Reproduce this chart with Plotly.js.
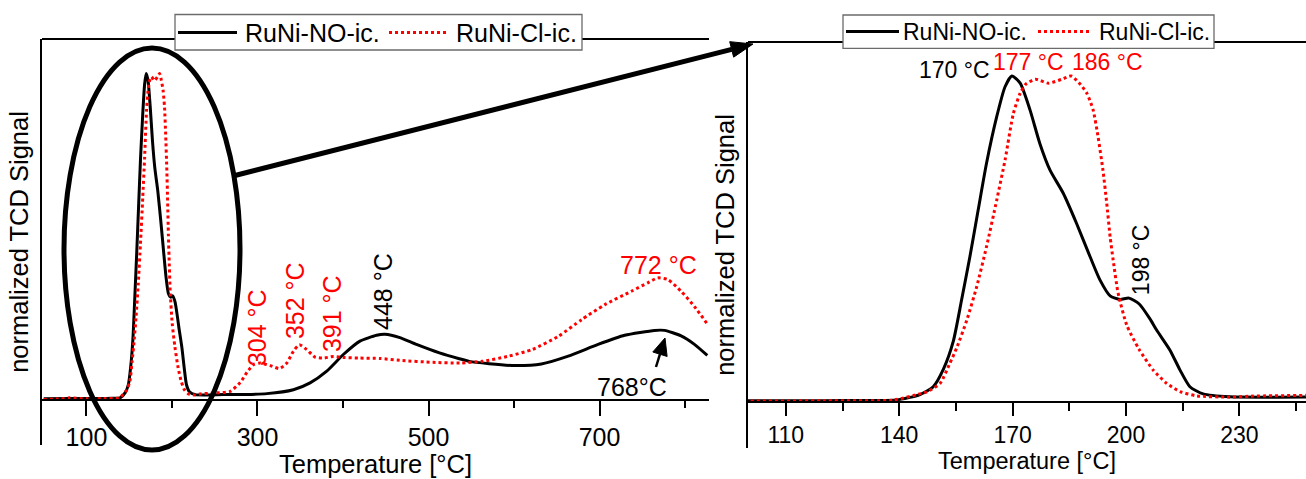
<!DOCTYPE html>
<html>
<head>
<meta charset="utf-8">
<script src="https://cdn.plot.ly/plotly-3.0.1.min.js"></script>
<style>html,body{margin:0;padding:0;background:#fff}#chart{width:1306px;height:479px}</style>
</head>
<body>
<div id="chart"></div>
<script>
// ---------- data ----------
const seriesNames = ["RuNi-NO-ic.", "RuNi-Cl-ic."];

const tempNO = [50, 80, 100, 120, 130, 139.3, 145.5, 149, 151.7, 154.3, 156.5, 158.7, 160.9, 163.1, 165.8, 168, 169.8,
  172, 174.6, 177.2, 179.9, 183.4, 186.9, 190.5, 193.1, 195.8, 198.4, 200.8, 203.5, 206.3, 208.1, 211.6, 214.3,
  216.9, 220.4, 227.5, 240, 260, 272.6, 311, 342, 361.5, 381, 400.4, 419.8, 439.3, 449, 466.5, 485.9, 512.8, 536,
  547.6, 570.9, 601, 632, 663.4, 698.3, 729.4, 764.4, 776, 795.4, 811, 826];
const signalNO = [0.002, 0.003, 0.003, 0.003, 0.004, 0.005, 0.022, 0.046, 0.10, 0.185, 0.312, 0.445, 0.589, 0.732, 0.875, 0.967, 1.0,
  0.978, 0.896, 0.793, 0.711, 0.640, 0.548, 0.445, 0.374, 0.325, 0.314, 0.318, 0.300, 0.255, 0.220, 0.159, 0.097,
  0.046, 0.024, 0.015, 0.014, 0.015, 0.015, 0.018, 0.030, 0.051, 0.087, 0.138, 0.179, 0.197, 0.200, 0.190, 0.169, 0.143, 0.125,
  0.117, 0.110, 0.104, 0.109, 0.133, 0.169, 0.197, 0.212, 0.212, 0.195, 0.169, 0.135];

const tempCl = [50, 70, 80, 100, 120, 138.4, 145.5, 147.3, 150.8, 153.4, 155.2, 157.9, 160.5, 163.1, 165.8, 168, 170.2,
  172, 173.5, 176, 179.5, 183, 185.5, 187.5, 189.6, 191.3, 192.6, 193.9, 194.9, 195.8, 196.6, 197.9, 200.2, 203.4,
  207.2, 210.8, 214.3, 218.7, 227.5, 233, 250, 268, 279.8, 287.6, 295.3, 303.2, 314.8, 325.7, 334.3, 342, 349, 357.6,
  367.3, 377, 388.7, 400.4, 419.8, 443, 466.5, 505.4, 536.5, 562.8, 593.8, 620.9, 651.9, 679, 706.2, 737.2, 756.5,
  768.1, 779.8, 795.4, 811, 826];
const signalCl = [0.0, 0.002, 0.005, 0.002, 0.003, 0.005, 0.024, 0.030, 0.056, 0.118, 0.165, 0.251, 0.353, 0.476, 0.619, 0.742, 0.885,
  0.947, 0.975, 0.99, 0.978, 0.99, 1.0, 0.98, 0.948, 0.896, 0.814, 0.711, 0.610, 0.506, 0.435, 0.334, 0.235, 0.162,
  0.097, 0.056, 0.031, 0.018, 0.014, 0.017, 0.020, 0.025, 0.052, 0.083, 0.107, 0.112, 0.104, 0.095, 0.112, 0.148, 0.168, 0.153,
  0.130, 0.127, 0.132, 0.129, 0.127, 0.126, 0.120, 0.114, 0.112, 0.117, 0.133, 0.153, 0.194, 0.245, 0.291, 0.332, 0.358,
  0.373, 0.368, 0.332, 0.285, 0.232];

const tickValsLeft = [100, 300, 500, 700];
const tickTextLeft = ["100", "300", "500", "700"];
const tickValsRight = [110, 140, 170, 200, 230];
const tickTextRight = ["110", "140", "170", "200", "230"];

// peak labels: [text, temperature position, signal position, colour-key, rotated]
const leftLabels = [
  ["304 °C", 299.4, 0.222, "Cl", true],
  ["352 °C", 343.9, 0.302, "Cl", true],
  ["391 °C", 387.1, 0.265, "Cl", true],
  ["448 °C", 446.8, 0.330, "NO", true],
  ["772 °C", 768.4, 0.413, "Cl", false],
  ["768°C", 738, 0.038, "NO", false]
];
const rightLabels = [
  ["170 °C", 154.5, 1.018, "NO", false],
  ["177 °C", 174.3, 1.043, "Cl", false],
  ["186 °C", 195.0, 1.043, "Cl", false],
  ["198 °C", 204.0, 0.435, "NO", true]
];

// ---------- layout helpers ----------
const W = 1306, H = 479;
const px = x => x / W;
const py = y => 1 - y / H;
const FONT = "Liberation Sans, Arial, sans-serif";
const colors = {NO: "#000000", Cl: "#ff0000"};
const lineStyles = {
  NO: {color: colors.NO, width: 3},
  Cl: {color: colors.Cl, width: 3, dash: "dot"}
};

function trace(key, xs, ys, name, xa, ya) {
  return {x: xs, y: ys, xaxis: xa, yaxis: ya, name: name, showlegend: false,
    mode: "lines", line: Object.assign({shape: "spline", smoothing: 0.6}, lineStyles[key])};
}

const data = [
  trace("NO", tempNO, signalNO, seriesNames[0], "x", "y"),
  trace("Cl", tempCl, signalCl, seriesNames[1], "x", "y"),
  trace("NO", tempNO, signalNO, seriesNames[0], "x2", "y2"),
  trace("Cl", tempCl, signalCl, seriesNames[1], "x2", "y2")
];

// plot geometry (pixels)
const L = {left: 42, right: 709, top: 39, bottom: 445, zero: 399.5, unit: 326, fs: 25};
const R = {left: 748, right: 1306, top: 42, bottom: 448, zero: 401.7, unit: 325.7, fs: 23};

function xAxis(G, range, tv, tt, majorLen, minor) {
  return {
    domain: [px(G.left), px(G.right)], range: range, anchor: "free", position: py(G.zero),
    showline: true, linewidth: 2, linecolor: "#000", showgrid: false, zeroline: false,
    tickmode: "array", tickvals: tv, ticktext: tt,
    ticks: "outside", ticklen: majorLen, tickwidth: 2, tickcolor: "#000",
    tickfont: {family: FONT, size: G.fs, color: "#000"},
    minor: Object.assign({ticks: "outside", tickwidth: 2, tickcolor: "#000", showgrid: false}, minor),
    title: {text: "Temperature [°C]", font: {family: FONT, size: G.fs + 0.5, color: "#000"}, standoff: 2}
  };
}
function yAxis(G, anchor) {
  return {
    domain: [py(G.bottom), py(G.top)],
    range: [-(G.bottom - G.zero) / G.unit, (G.zero - G.top) / G.unit],
    anchor: anchor, showline: true, linewidth: 2, linecolor: "#000", showgrid: false, zeroline: false,
    showticklabels: false, ticks: "",
    title: {text: "normalized TCD Signal", font: {family: FONT, size: 25.5, color: "#000"}, standoff: 4}
  };
}

const layout = {
  width: W, height: H,
  margin: {l: 0, r: 0, t: 0, b: 0},
  paper_bgcolor: "#fff", plot_bgcolor: "#fff",
  font: {family: FONT, color: "#000"},
  showlegend: false,
  xaxis: xAxis(L, [48, 828], tickValsLeft, tickTextLeft, 15, {tick0: 200, dtick: 200, ticklen: 7}),
  yaxis: yAxis(L, "x"),
  xaxis2: xAxis(R, [100, 100 + (R.right - R.left) / 3.78], tickValsRight, tickTextRight, 13, {tick0: 125, dtick: 30, ticklen: 8}),
  yaxis2: yAxis(R, "x2"),
  shapes: [],
  annotations: []
};

// top spines
layout.shapes.push({type: "line", xref: "paper", yref: "paper", x0: px(L.left), x1: px(L.right), y0: py(L.top), y1: py(L.top), line: {color: "#000", width: 2}});
layout.shapes.push({type: "line", xref: "paper", yref: "paper", x0: px(R.left), x1: px(R.right), y0: py(R.top), y1: py(R.top), line: {color: "#000", width: 2}});

// zoom ellipse
layout.shapes.push({type: "circle", xref: "paper", yref: "paper", x0: px(64), x1: px(240), y0: py(450), y1: py(48), line: {color: "#000", width: 5}});

// arrows drawn as line + triangle
function arrow(tailX, tailY, tipX, tipY, headLen, headHalf, width) {
  const dx = tipX - tailX, dy = tipY - tailY, len = Math.hypot(dx, dy);
  const ux = dx / len, uy = dy / len, nx = -uy, ny = ux;
  const bx = tipX - headLen * ux, by = tipY - headLen * uy;
  layout.shapes.push({type: "line", xref: "paper", yref: "paper", x0: px(tailX), y0: py(tailY), x1: px(bx), y1: py(by), line: {color: "#000", width: width}});
  const p1 = [bx + headHalf * nx, by + headHalf * ny], p2 = [bx - headHalf * nx, by - headHalf * ny];
  layout.shapes.push({type: "path", xref: "paper", yref: "paper",
    path: `M ${px(tipX)} ${py(tipY)} L ${px(p1[0])} ${py(p1[1])} L ${px(p2[0])} ${py(p2[1])} Z`,
    fillcolor: "#000", line: {color: "#000", width: 1}});
}
arrow(233, 176, 753, 44, 22, 8, 5);
arrow(656, 367, 665, 338, 17, 7.5, 2.5);

// legends (box, line samples, labels) for each panel
function legendBox(box, samples, textX, cy, fs) {
  layout.shapes.push({type: "rect", xref: "paper", yref: "paper", x0: px(box[0]), x1: px(box[1]), y0: py(box[3]), y1: py(box[2]),
    fillcolor: "#fff", line: {color: "#6b6b6b", width: 1.3}});
  ["NO", "Cl"].forEach((key, i) => {
    layout.shapes.push({type: "line", xref: "paper", yref: "paper", x0: px(samples[i][0]), x1: px(samples[i][1]), y0: py(cy), y1: py(cy),
      line: lineStyles[key]});
    layout.annotations.push({text: seriesNames[i], xref: "paper", yref: "paper", x: px(textX[i]), y: py(cy), xanchor: "left", yanchor: "middle",
      showarrow: false, font: {family: FONT, size: fs, color: "#000"}});
  });
}
legendBox([175, 582, 14.5, 50], [[178, 237], [389, 446]], [243, 454], 32.5, 25);
legendBox([843, 1214, 15, 48.3], [[846, 899], [1038, 1089]], [901, 1097], 31.5, 23);

// peak labels
leftLabels.forEach(([t, x, y, c, rot]) => layout.annotations.push({
  text: t, x: x, y: y, xref: "x", yref: "y", showarrow: false, textangle: rot ? -90 : 0,
  xanchor: "center", yanchor: "middle", font: {family: FONT, size: L.fs, color: colors[c]}
}));
rightLabels.forEach(([t, x, y, c, rot]) => layout.annotations.push({
  text: t, x: x, y: y, xref: "x2", yref: "y2", showarrow: false, textangle: rot ? -90 : 0,
  xanchor: "center", yanchor: "middle", font: {family: FONT, size: R.fs, color: colors[c]}
}));

Plotly.newPlot("chart", data, layout, {displayModeBar: false, staticPlot: true});
</script>
</body>
</html>
